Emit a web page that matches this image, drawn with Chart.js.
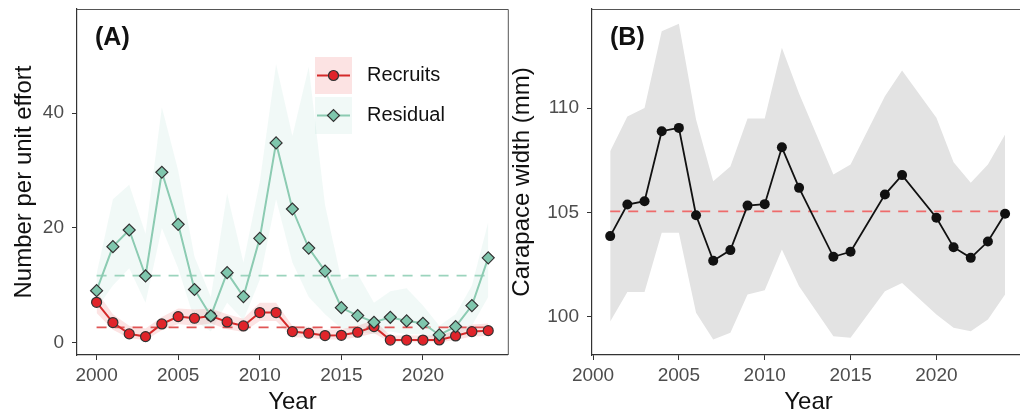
<!DOCTYPE html>
<html>
<head>
<meta charset="utf-8">
<script src="https://cdn.jsdelivr.net/npm/chart.js@4.4.1/dist/chart.umd.min.js"></script>
<style>
  html, body { margin: 0; padding: 0; background: #fff; overflow: hidden; }
  #wrap { position: relative; width: 1020px; height: 420px; overflow: hidden; }
  #chartA { position: absolute; left: 0; top: 0; }
  #chartB { position: absolute; left: 500px; top: 0; }
</style>
</head>
<body>
<div id="wrap">
  <canvas id="chartA" width="515" height="420"></canvas>
  <canvas id="chartB" width="530" height="420"></canvas>
</div>
<script>
// ---- panel A data ----
const yearsA = [2000, 2001, 2002, 2003, 2004, 2005, 2006, 2007, 2008, 2009, 2010, 2011, 2012,
                2013, 2014, 2015, 2016, 2017, 2018, 2019, 2020, 2021, 2022, 2023, 2024];
const recruits   = [7.07, 3.54, 1.57, 1.1, 3.3, 4.58, 4.29, 4.7, 3.65, 2.96, 5.28, 5.28, 1.97,
                    1.68, 1.28, 1.33, 1.86, 2.84, 0.5, 0.5, 0.5, 0.52, 1.22, 1.97, 2.14];
const recruitsHi = [9, 5, 3, 2.5, 4.5, 6, 5.8, 6, 5, 4.2, 7, 7, 3,
                    2.8, 2.3, 2.4, 3, 4, 1.3, 1.3, 1.3, 1.3, 2.2, 3.2, 3.4];
const recruitsLo = [5.2, 2.3, 0.8, 0.5, 2.2, 3.3, 3, 3.4, 2.4, 1.9, 3.8, 3.8, 1,
                    0.9, 0.6, 0.6, 1, 1.7, 0.1, 0.1, 0.1, 0.1, 0.5, 1.1, 1.2];
const residual   = [9.1, 16.75, 19.65, 11.65, 29.7, 20.64, 9.3, 4.7, 12.23, 8.06, 18.2, 34.8, 23.3,
                    16.5, 12.5, 6.14, 4.76, 3.6, 4.46, 3.83, 3.42, 1.39, 2.84, 6.5, 14.8];
const residualHi = [12, 25, 27.5, 19, 41, 30, 15, 8, 26, 14, 28, 48.5, 36,
                    48, 24, 11, 12, 7, 9, 9.5, 6.5, 3, 5, 10, 21];
const residualLo = [6, 10, 13, 7, 20, 13, 4, 2, 7, 4, 11, 25, 14,
                    8, 5, 2.5, 2, 1.5, 2, 1.5, 1.5, 0.5, 1, 3, 8];
const recruitsMean = 2.72;
const residualMean = 11.7;
const ticksA = [0, 20, 40];

// ---- panel B data ----
const yearsB = [2001, 2002, 2003, 2004, 2005, 2006, 2007, 2008, 2009, 2010, 2011, 2012,
                2014, 2015, 2017, 2018, 2020, 2021, 2022, 2023, 2024];
const carapace   = [103.87, 105.38, 105.54, 108.89, 109.05, 104.87, 102.69, 103.2, 105.33, 105.4, 108.12, 106.18,
                    102.88, 103.12, 105.86, 106.79, 104.75, 103.34, 102.83, 103.61, 104.94];
const carapaceHi = [107.93, 109.6, 110.0, 113.67, 114.04, 109.45, 106.5, 107.2, 109.5, 109.5, 112.88, 110.7,
                    106.82, 107.3, 110.56, 111.8, 109.53, 107.4, 106.42, 107.3, 108.73];
const carapaceLo = [99.78, 101.19, 101.19, 104.03, 104.03, 100.2, 98.92, 99.24, 101.08, 101.28, 103.23, 101.47,
                    99.08, 99.0, 101.23, 101.63, 100.12, 99.48, 99.32, 99.88, 101.08];
const carapaceMean = 105.05;
const ticksB = [100, 105, 110];

const yearTicks = [2000, 2005, 2010, 2015, 2020];

const FONT = "'Liberation Sans', Arial, Helvetica, sans-serif";

function pts(xs, ys) {
    return xs.map((x, i) => ({ x: x, y: ys[i] }));
}

function ribbon(xs, ys, color, fill, order) {
    return {
        data: pts(xs, ys),
        borderWidth: 0,
        pointRadius: 0,
        backgroundColor: color,
        fill: fill,
        order: order
    };
}

function meanLine(xs, m, color, order) {
    return {
        data: pts([xs[0], xs[xs.length - 1]], [m, m]),
        borderColor: color,
        borderWidth: 1.8,
        borderDash: [10, 8],
        pointRadius: 0,
        fill: false,
        order: order
    };
}

function axes(opt) {
    return {
        x: {
            type: "linear",
            min: opt.xmin,
            max: opt.xmax,
            afterBuildTicks: s => { s.ticks = yearTicks.map(v => ({ value: v })); },
            afterFit: s => { s.height = 65; s.paddingLeft = 0; s.paddingRight = 0; },
            border: { color: "#333", width: 1.2 },
            grid: { drawOnChartArea: false, tickLength: 5, color: "#333" },
            ticks: { color: "#4d4d4d", font: { family: FONT, size: 19 }, padding: 4,
                     maxRotation: 0, callback: v => String(v) },
            title: { display: true, text: "Year", color: "#111",
                     font: { family: FONT, size: 24 }, padding: { top: 0, bottom: 3 } }
        },
        y: {
            min: opt.ymin,
            max: opt.ymax,
            afterBuildTicks: s => { s.ticks = opt.ticks.map(v => ({ value: v })); },
            afterFit: s => { s.width = opt.yWidth; s.paddingTop = 0; s.paddingBottom = 0; },
            border: { color: "#333", width: 1.2 },
            grid: { drawOnChartArea: false, tickLength: 5, color: "#333" },
            ticks: { color: "#4d4d4d", font: { family: FONT, size: 19 }, padding: 8 },
            title: { display: true, text: opt.yTitle, color: "#111",
                     font: { family: FONT, size: 24 }, padding: { top: opt.titlePad, bottom: 0 } }
        }
    };
}

// box around the panel and the panel letter
function panelDecor(letter) {
    return {
        id: "decor" + letter,
        afterDraw(chart) {
            const { ctx, chartArea: a } = chart;
            ctx.save();
            ctx.strokeStyle = "#555";
            ctx.lineWidth = 1;
            ctx.beginPath();
            ctx.moveTo(a.left, a.top + 0.5);
            ctx.lineTo(a.right + 0.5, a.top + 0.5);
            ctx.lineTo(a.right + 0.5, a.bottom);
            ctx.stroke();
            ctx.fillStyle = "#111";
            ctx.font = "bold 25px " + FONT;
            ctx.textBaseline = "middle";
            ctx.textAlign = "left";
            ctx.fillText("(" + letter + ")", a.left + 18, 38);
            ctx.restore();
        }
    };
}

const legendItems = [
    { label: "Recruits", key: "rgba(228,26,28,0.12)", line: "#d42a2a", fill: "#e0242a", style: "circle", r: 5 },
    { label: "Residual", key: "rgba(102,194,165,0.09)", line: "#8ccbb2", fill: "#7fc6ad", style: "rectRot", r: 6 }
];

const legendPlugin = {
    id: "legendA",
    afterDraw(chart) {
        const ctx = chart.ctx;
        ctx.save();
        legendItems.forEach((it, i) => {
            const y0 = 57 + i * 40;
            ctx.fillStyle = it.key;
            ctx.fillRect(315, y0, 37, 37);
            const cy = y0 + 18.5;
            ctx.strokeStyle = it.line;
            ctx.lineWidth = 2;
            ctx.beginPath();
            ctx.moveTo(317, cy);
            ctx.lineTo(350, cy);
            ctx.stroke();
            ctx.fillStyle = it.fill;
            ctx.strokeStyle = "#333";
            ctx.lineWidth = 1.2;
            Chart.helpers.drawPoint(ctx, { pointStyle: it.style, radius: it.r, borderWidth: 1.2 }, 333.5, cy);
            ctx.fillStyle = "#111";
            ctx.font = "20px " + FONT;
            ctx.textBaseline = "middle";
            ctx.textAlign = "left";
            ctx.fillText(it.label, 367, cy);
        });
        ctx.restore();
    }
};

new Chart(document.getElementById("chartA"), {
    type: "line",
    data: {
        datasets: [
            ribbon(yearsA, residualHi, "rgba(102,194,165,0.09)", "+1", 20),
            ribbon(yearsA, residualLo, "rgba(102,194,165,0.09)", false, 21),
            ribbon(yearsA, recruitsHi, "rgba(228,26,28,0.12)", "+1", 18),
            ribbon(yearsA, recruitsLo, "rgba(228,26,28,0.12)", false, 19),
            meanLine(yearsA, residualMean, "#9bd4bd", 10),
            meanLine(yearsA, recruitsMean, "#e05555", 9),
            {
                data: pts(yearsA, recruits),
                borderColor: "#d42a2a",
                borderWidth: 2,
                pointStyle: "circle",
                pointRadius: 5,
                pointBackgroundColor: "#e0242a",
                pointBorderColor: "#333",
                pointBorderWidth: 1.2,
                fill: false,
                order: 2
            },
            {
                data: pts(yearsA, residual),
                borderColor: "#8ccbb2",
                borderWidth: 2,
                pointStyle: "rectRot",
                pointRadius: 6,
                pointBackgroundColor: "#7fc6ad",
                pointBorderColor: "#333",
                pointBorderWidth: 1.2,
                fill: false,
                order: 1
            }
        ]
    },
    options: {
        responsive: false,
        animation: false,
        events: [],
        layout: { padding: { left: 0, right: 3, top: 9, bottom: 0 } },
        plugins: { legend: { display: false }, tooltip: { enabled: false } },
        scales: axes({ xmin: 1998.8, xmax: 2025.2, ymin: -2.1, ymax: 58.1, ticks: ticksA,
                       yWidth: 77, yTitle: "Number per unit effort", titlePad: 10 })
    },
    plugins: [panelDecor("A"), legendPlugin]
});

new Chart(document.getElementById("chartB"), {
    type: "line",
    data: {
        datasets: [
            ribbon(yearsB, carapaceHi, "#e3e3e3", "+1", 20),
            ribbon(yearsB, carapaceLo, "#e3e3e3", false, 21),
            meanLine(yearsB, carapaceMean, "#ee6b6b", 10),
            {
                data: pts(yearsB, carapace),
                borderColor: "#111",
                borderWidth: 1.8,
                pointRadius: 5,
                pointBackgroundColor: "#111",
                pointBorderColor: "#111",
                pointBorderWidth: 0,
                fill: false,
                order: 1
            }
        ]
    },
    options: {
        responsive: false,
        animation: false,
        events: [],
        layout: { padding: { left: 0, right: 3, top: 9, bottom: 0 } },
        plugins: { legend: { display: false }, tooltip: { enabled: false } },
        scales: axes({ xmin: 1999.94, xmax: 2025.16, ymin: 98.18, ymax: 114.74, ticks: ticksB,
                       yWidth: 92, yTitle: "Carapace width (mm)", titlePad: 8 })
    },
    plugins: [panelDecor("B")]
});
</script>
</body>
</html>
